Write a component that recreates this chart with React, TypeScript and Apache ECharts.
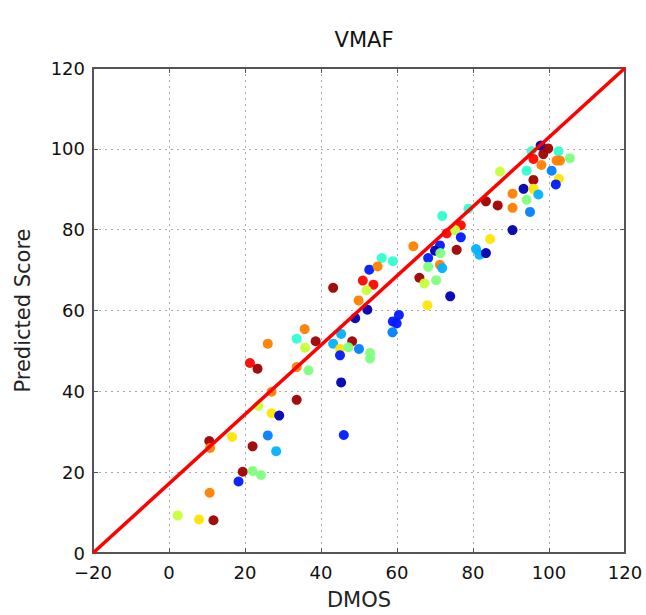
import React, { useEffect, useRef } from "react";
import * as echarts from "echarts";

// DMOS (x), predicted score (y), colour value on jet scale (0..1)
const dmos = [
  2.3, 7.9, 11.7, 10.7, 10.6, 10.8, 16.6, 22, 23.5, 27, 29, 33.6, 27, 26, 28.2, 19.4, 22, 24.2, 18.3,
  64.3, 56, 58.9, 52.7, 54.9, 51, 53.8, 43.2, 52, 49.9, 52.2, 49, 65.9, 60.5, 58.9, 59.9, 58.8,
  35.7, 33.6, 38.6, 35.8, 26, 45.3, 43.2, 45, 45, 48.2, 47.2, 50, 52.9, 52.9, 21.3, 23.3, 33.6,
  36.7, 45.3, 46, 68, 74,
  97.8, 95.4, 99.8, 98.5, 95.9, 102.5, 105.5, 102, 102.9, 98, 94.1, 100.7, 95.9, 102.6, 101.8, 93.3, 95.9,
  97.2, 94.1, 95, 90.4, 90.4, 87.1, 83.4, 86.5, 90.4, 71.9, 78.8, 76.8, 73.1, 75.3, 76.8, 75.7,
  84.5, 80.8, 81.7, 83.4, 71.3, 70, 68.2, 71.4, 71.3, 71.9, 68.2, 67.2, 70.3,
];
const predicted = [
  9.3, 8.3, 8.1, 14.9, 27.7, 26, 28.7, 26.4, 36.4, 34.6, 34, 37.9, 39.9, 29.1, 25.2, 20.1, 20.3, 19.3, 17.7,
  75.9, 73, 72.2, 70.1, 70.9, 67.4, 66.4, 65.6, 65, 62.5, 60.2, 58.1, 68.1, 58.9, 57.3, 56.8, 54.6,
  55.4, 53, 52.4, 50.8, 51.8, 54.2, 51.8, 50.5, 48.9, 52.4, 50.9, 50.5, 49.5, 48.1, 47, 45.6, 46,
  45.2, 42.2, 29.2, 61.3, 63.5,
  100.8, 99.4, 100.1, 98.7, 97.5, 99.4, 97.7, 97.1, 97.1, 96, 94.6, 94.6, 92.3, 92.6, 91.2, 90.1, 90.1,
  88.7, 87.4, 84.4, 88.9, 85.4, 94.4, 87, 86, 79.9, 83.4, 85.2, 81.1, 79.1, 79.9, 78.1, 75,
  77.7, 75.2, 73.8, 74.2, 76.1, 74.8, 73, 74.2, 71.3, 70.5, 70.8, 66.7, 67.5,
];
const colorValue = [
  0.57, 0.65, 0.97, 0.75, 0.97, 0.75, 0.65, 0.97, 0.57, 0.65, 0.05, 0.97, 0.75, 0.25, 0.3, 0.97, 0.5, 0.5, 0.15,
  0.75, 0.42, 0.42, 0.15, 0.75, 0.87, 0.87, 0.97, 0.57, 0.75, 0.05, 0.05, 0.97, 0.15, 0.15, 0.15, 0.25,
  0.75, 0.42, 0.97, 0.57, 0.75, 0.3, 0.3, 0.65, 0.15, 0.97, 0.5, 0.25, 0.5, 0.5, 0.87, 0.97, 0.75,
  0.5, 0.05, 0.15, 0.65, 0.05,
  0.05, 0.42, 0.97, 0.97, 0.87, 0.42, 0.5, 0.75, 0.75, 0.75, 0.42, 0.25, 0.97, 0.65, 0.15, 0.05, 0.65,
  0.3, 0.5, 0.25, 0.75, 0.75, 0.57, 0.97, 0.97, 0.05, 0.42, 0.42, 0.87, 0.87, 0.57, 0.15, 0.97,
  0.65, 0.3, 0.3, 0.05, 0.15, 0.05, 0.15, 0.5, 0.75, 0.3, 0.5, 0.57, 0.5,
];
const identityLine = [
  [-20, 0],
  [120, 120],
];
const xTicks = { min: -20, max: 120, interval: 20 };
const yTicks = { min: 0, max: 120, interval: 20 };

const font = "DejaVu Sans";
const minus = (v: number) => String(v).replace("-", "\u2212");

export default function App() {
  const ref = useRef<HTMLDivElement>(null);
  useEffect(() => {
    const chart = echarts.init(ref.current!, null, { renderer: "svg" });
    const points = dmos.map((x, i) => [x, predicted[i], colorValue[i]]);
    const axisCommon = {
      axisLine: { show: true, onZero: false, lineStyle: { color: "#555", width: 2 } },
      axisTick: { show: true, inside: true, length: 5, lineStyle: { color: "#555" } },
    };
    chart.setOption({
      animation: false,
      backgroundColor: "#fff",
      title: {
        text: "VMAF",
        left: 359,
        top: 24,
        textAlign: "center",
        textStyle: { fontFamily: font, fontSize: 21, fontWeight: "normal", color: "#111" },
      },
      grid: { left: 93, right: 21, top: 68, bottom: 57 },
      visualMap: {
        show: false,
        min: 0,
        max: 1,
        dimension: 2,
        seriesIndex: 0,
        inRange: {
          color: ["#00007f", "#0000ff", "#007fff", "#00ffff", "#7fff7f", "#ffff00", "#ff7f00", "#ff0000", "#7f0000"],
        },
      },
      xAxis: [
        {
          type: "value",
          ...xTicks,
          ...axisCommon,
          name: "DMOS",
          nameLocation: "middle",
          nameGap: 36,
          nameTextStyle: { fontFamily: font, fontSize: 21, color: "#222" },
          axisLabel: { fontFamily: font, fontSize: 18, lineHeight: 14, color: "#111", margin: 12, formatter: minus },
          splitLine: { show: true, lineStyle: { color: "#aaa", type: [2, 4], width: 1 } },
        },
        {
          type: "value",
          position: "top",
          ...xTicks,
          ...axisCommon,
          axisLabel: { show: false },
          splitLine: { show: false },
        },
      ],
      yAxis: [
        {
          type: "value",
          ...yTicks,
          ...axisCommon,
          name: "Predicted Score",
          nameLocation: "middle",
          nameGap: 60,
          nameTextStyle: { fontFamily: font, fontSize: 21, color: "#222" },
          axisLabel: { fontFamily: font, fontSize: 18, lineHeight: 14, color: "#111", margin: 8 },
          splitLine: { show: true, lineStyle: { color: "#aaa", type: [2, 4], width: 1 } },
        },
        {
          type: "value",
          position: "right",
          ...yTicks,
          ...axisCommon,
          axisLabel: { show: false },
          splitLine: { show: false },
        },
      ],
      series: [
        {
          type: "scatter",
          data: points,
          symbolSize: 10,
          itemStyle: { opacity: 0.95 },
          z: 2,
        },
        {
          type: "line",
          data: identityLine,
          symbol: "none",
          lineStyle: { color: "#ff0000", width: 3.5 },
          z: 3,
        },
      ],
    });
    return () => chart.dispose();
  }, []);
  return (
    <div
      ref={ref}
      style={{ position: "fixed", left: 0, top: 0, width: 646, height: 615 }}
    />
  );
}
